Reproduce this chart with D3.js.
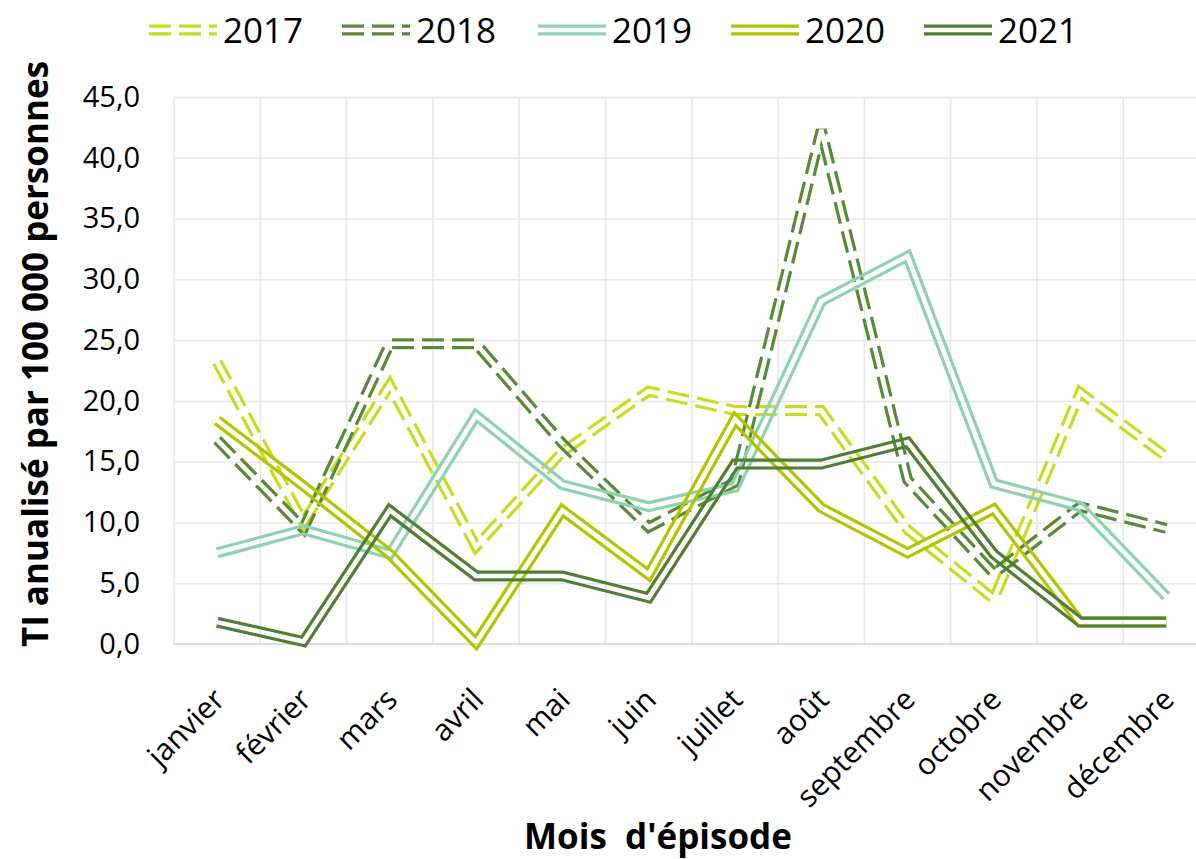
<!DOCTYPE html>
<html>
<head>
<meta charset="utf-8">
<script src="https://cdn.jsdelivr.net/npm/d3@7"></script>
<style>
body { margin: 0; background: #fff; }
svg { font-family: "Open Sans", sans-serif; }
.grid line { stroke: #e8e8e8; stroke-width: 1.5; }
.grid .domain { display: none; }
</style>
</head>
<body>
<svg id="graph" width="1196" height="859"></svg>
<script>
var months = ["janvier", "février", "mars", "avril", "mai", "juin", "juillet", "août", "septembre", "octobre", "novembre", "décembre"]
var years = ["2017", "2018", "2019", "2020", "2021"]
var v2017 = [23.2, 10.0, 21.3, 8.0, 15.8, 20.8, 19.2, 19.2, 9.4, 3.7, 20.7, 15.4]
var v2018 = [16.8, 9.5, 24.7, 24.7, 16.5, 9.6, 13.3, 42.3, 13.5, 5.8, 11.3, 9.5]
var v2019 = [7.5, 9.4, 7.4, 18.8, 13.1, 11.3, 12.9, 28.2, 31.9, 13.2, 11.3, 3.9]
var v2020 = [18.4, 13.0, 7.4, 0.1, 11.0, 5.7, 18.5, 11.2, 7.5, 11.1, 1.8, 1.8]
var v2021 = [1.8, 0.2, 11.0, 5.6, 5.6, 3.8, 14.8, 14.8, 16.6, 7.4, 1.8, 1.8]
var yTicks = [0, 5, 10, 15, 20, 25, 30, 35, 40, 45]

var colors = ["#c9dc23", "#588a38", "#8ed2b2", "#b3c400", "#4f7f32"]
var dashed = [true, true, false, false, false]
var seriesValues = [v2017, v2018, v2019, v2020, v2021]

var margin = { top: 97, left: 174, bottom: 215 }
var width = 86.3 * 12
var height = 859 - margin.top - margin.bottom
var lineW = 11, gapW = 4.6, dash = "22,8"

var svg = d3.select("#graph")
var defs = svg.append("defs")
var g = svg.append("g").attr("transform", "translate(" + margin.left + "," + margin.top + ")")

var xScale = d3.scaleBand().domain(months).range([0, width]).padding(0)
var yScale = d3.scaleLinear().domain([0, 45]).range([height, 0])

// vertical grid on category boundaries
g.selectAll(".vgrid")
    .data(d3.range(months.length + 1))
    .enter().append("line")
    .attr("class", "vgrid")
    .attr("x1", d => d * xScale.bandwidth())
    .attr("x2", d => d * xScale.bandwidth())
    .attr("y1", 0)
    .attr("y2", height)
    .attr("stroke", "#e8e8e8")
    .attr("stroke-width", 1.5)

var fmt = d => d3.format(".1f")(d).replace(".", ",")

g.append("g")
    .attr("class", "grid")
    .call(d3.axisLeft(yScale).tickValues(yTicks).tickSize(-width).tickPadding(34).tickFormat(fmt))
    .call(a => a.selectAll("text").attr("font-size", 29).attr("fill", "#000").attr("font-family", "Open Sans"))

g.append("line")
    .attr("x1", 0).attr("x2", width)
    .attr("y1", height).attr("y2", height)
    .attr("stroke", "#d9d9d9").attr("stroke-width", 1.5)

g.selectAll(".xlab")
    .data(months)
    .enter().append("text")
    .attr("class", "xlab")
    .attr("transform", d => "translate(" + (xScale(d) + xScale.bandwidth() / 2 + 2) + "," + (height + 50) + ") rotate(-45)")
    .attr("text-anchor", "end")
    .attr("dy", "0.35em")
    .attr("font-size", 30)
    .text(d => d)

var line = d3.line()
    .x((d, i) => xScale(months[i]) + xScale.bandwidth() / 2)
    .y(d => yScale(d))

function doubleLine(parent, id, pathD, color, isDashed) {
    var m = defs.append("mask").attr("id", id)
        .attr("maskUnits", "userSpaceOnUse")
        .attr("x", -200).attr("y", -200).attr("width", 1600).attr("height", 1300)
    m.append("path").attr("d", pathD).attr("fill", "none")
        .attr("stroke", "#fff").attr("stroke-width", lineW + 2)
    m.append("path").attr("d", pathD).attr("fill", "none")
        .attr("stroke", "#000").attr("stroke-width", gapW)
    parent.append("path")
        .attr("d", pathD)
        .attr("fill", "none")
        .attr("stroke", color)
        .attr("stroke-width", lineW)
        .attr("stroke-dasharray", isDashed ? dash : null)
        .attr("mask", "url(#" + id + ")")
}

seriesValues.forEach((vals, i) => {
    doubleLine(g, "m" + years[i], line(vals), colors[i], dashed[i])
})

// legend
var legendX = [149, 342, 538, 731, 924]
var legend = svg.append("g")
years.forEach((y, i) => {
    var sample = "M" + legendX[i] + ",30H" + (legendX[i] + 68)
    doubleLine(legend, "lg" + y, sample, colors[i], dashed[i])
    legend.append("text")
        .attr("x", legendX[i] + 74)
        .attr("y", 30)
        .attr("dy", "0.36em")
        .attr("font-size", 35)
        .text(y)
})

svg.append("text")
    .attr("x", 658)
    .attr("y", 849)
    .attr("text-anchor", "middle")
    .attr("font-size", 35)
    .attr("font-weight", "bold")
    .attr("xml:space", "preserve")
    .text("Mois  d'épisode")

svg.append("text")
    .attr("transform", "translate(48,354) rotate(-90)")
    .attr("text-anchor", "middle")
    .attr("font-size", 35)
    .attr("font-weight", "bold")
    .text("TI anualisé par 100 000 personnes")
</script>
</body>
</html>
